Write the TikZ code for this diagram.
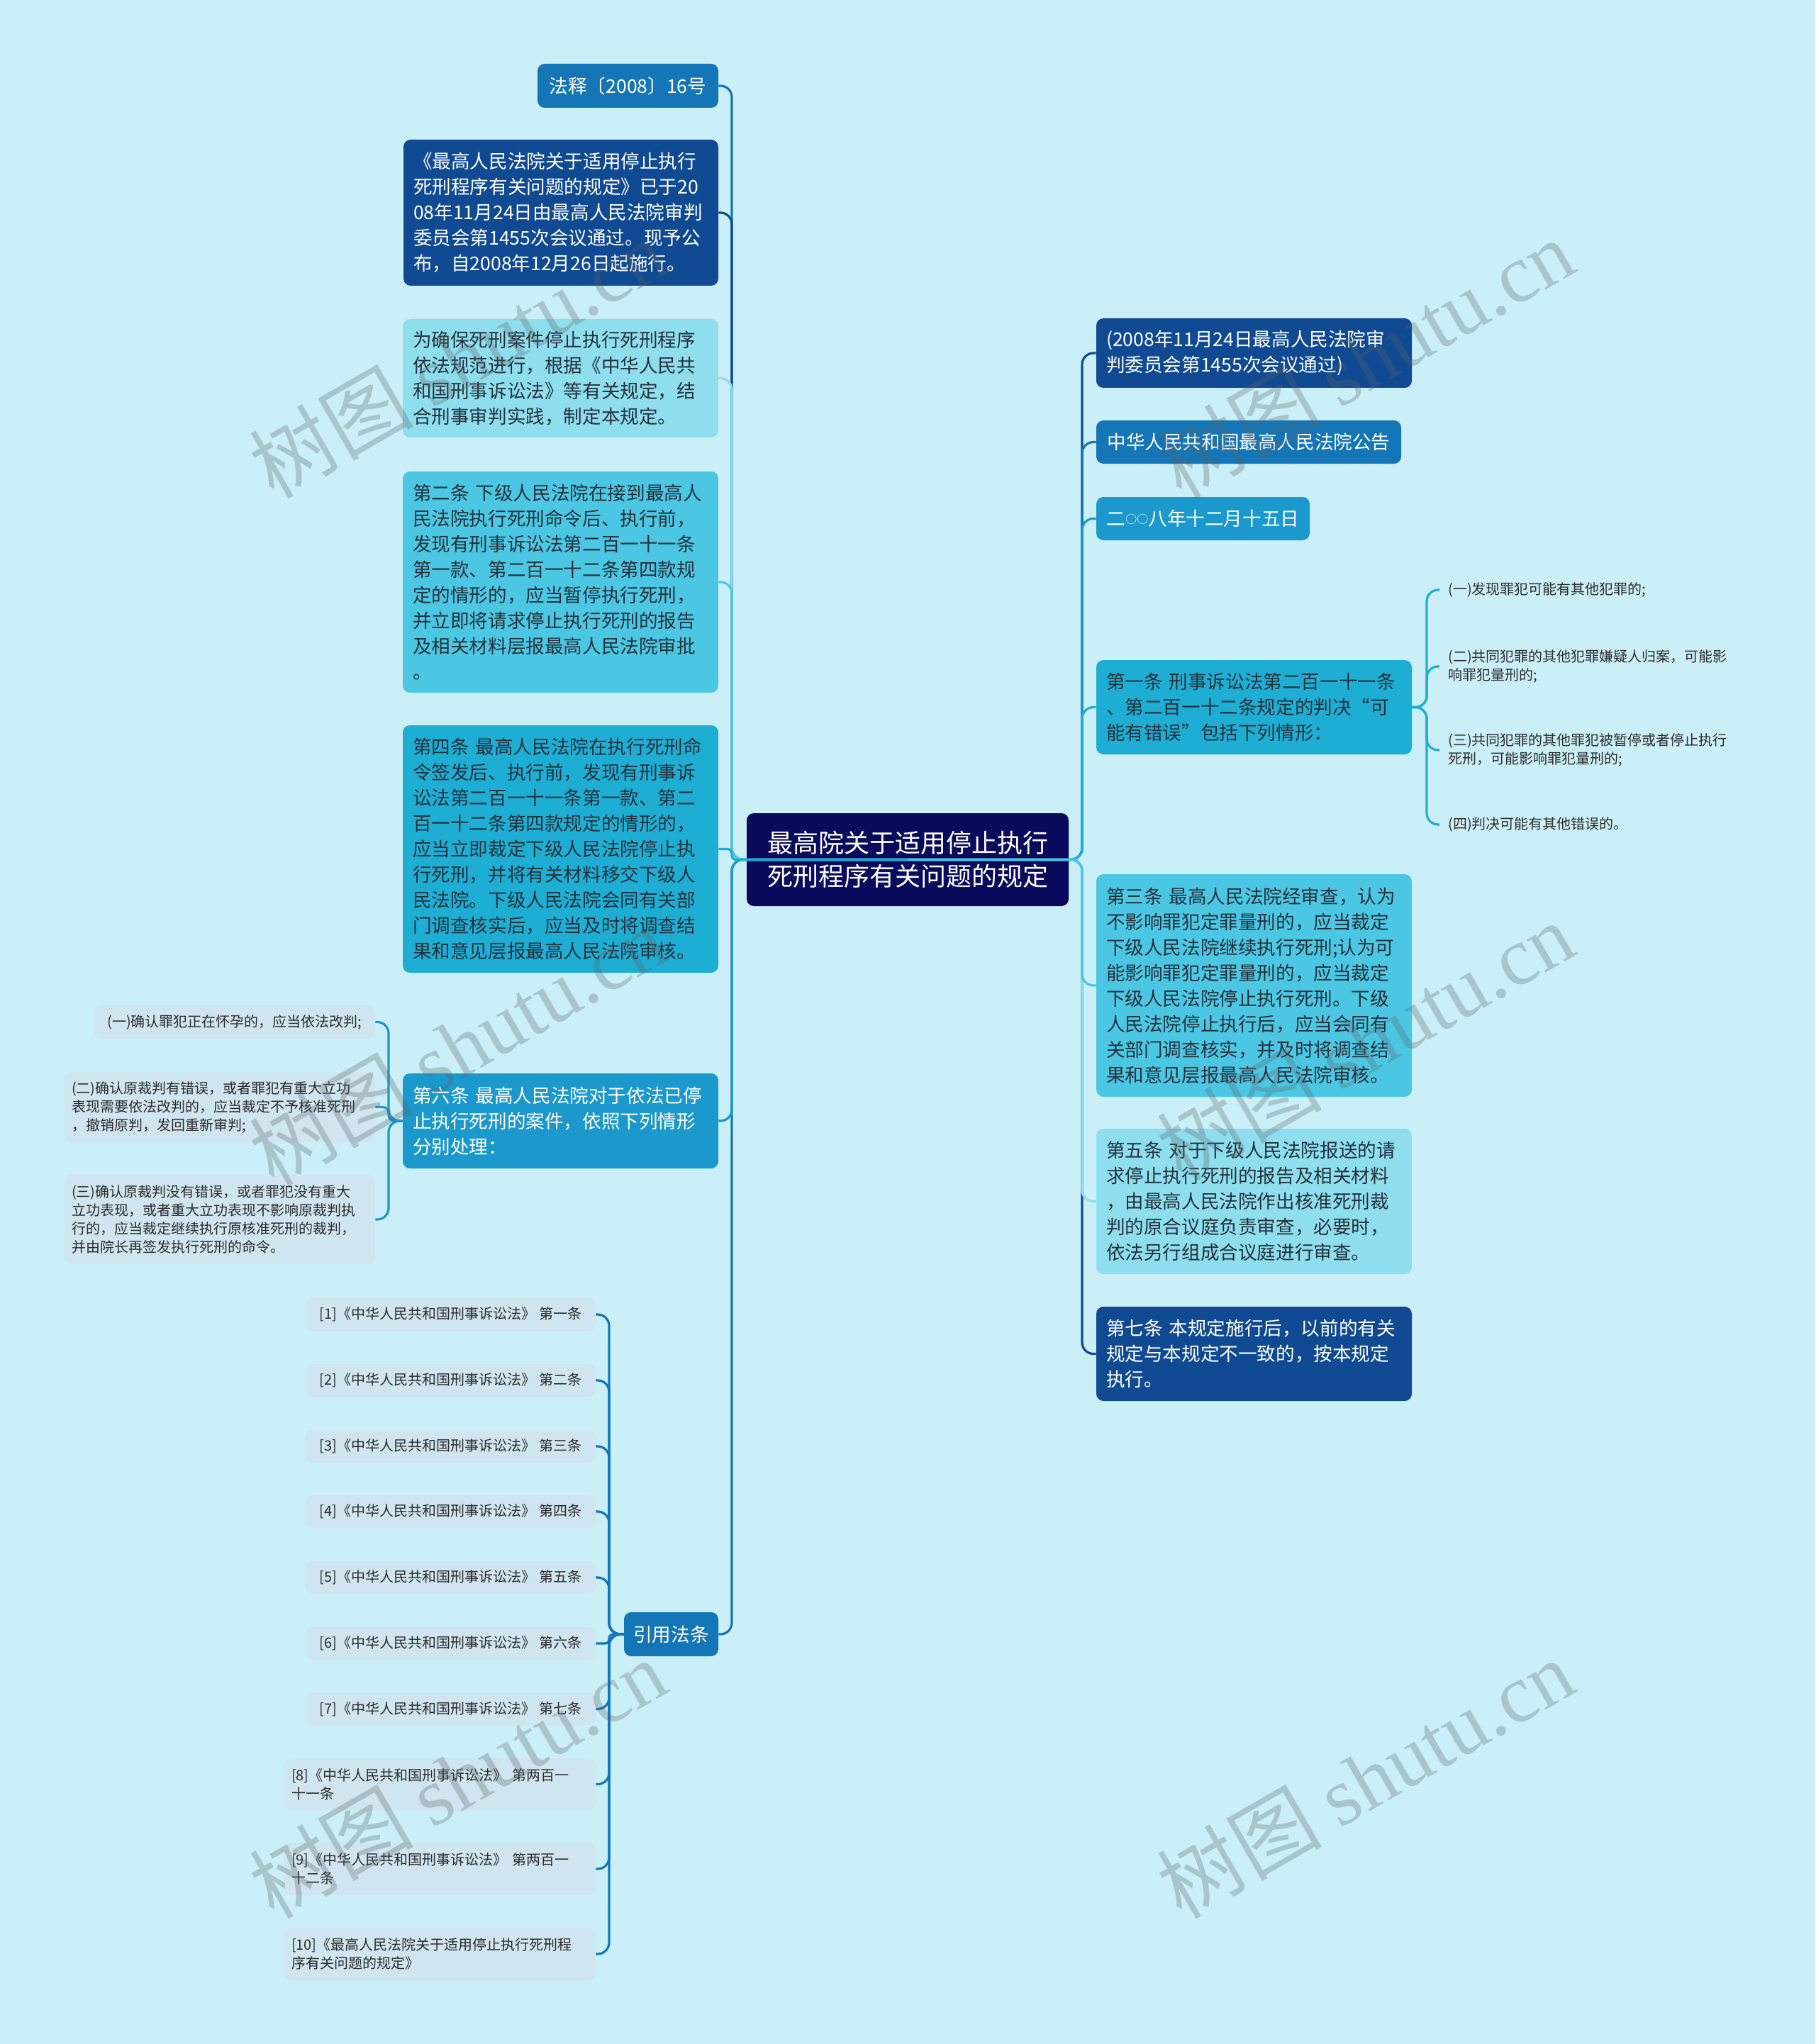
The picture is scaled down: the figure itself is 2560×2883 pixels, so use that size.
\documentclass[tikz,border=0pt]{standalone}
\usepackage{fontspec}
\setmainfont{Noto Sans CJK SC}
\newfontfamily\wmserif{Liberation Serif}
\definecolor{bg}{RGB}{203,239,247}
\definecolor{cNavy}{RGB}{10,10,92}
\definecolor{cDark}{RGB}{16,74,146}
\definecolor{cMed}{RGB}{20,118,182}
\definecolor{cBlue3}{RGB}{27,152,204}
\definecolor{cCyan1}{RGB}{30,174,212}
\definecolor{cCyan2}{RGB}{76,199,227}
\definecolor{cLight}{RGB}{142,222,238}
\definecolor{cSmall}{RGB}{207,229,239}
\definecolor{cText}{RGB}{35,50,60}
\definecolor{cSmallText}{RGB}{45,45,45}
\definecolor{cWm}{RGB}{90,100,105}
\tikzset{
  box/.style={rounded corners=5pt, inner sep=0pt, font=\fontsize{13.3pt}{18pt}\selectfont},
  multi/.style={align=left, inner xsep=7pt},
  small/.style={rounded corners=5pt, fill=cSmall, text=cSmallText, inner sep=0pt, font=\fontsize{10pt}{13pt}\selectfont},
  smulti/.style={align=left, inner xsep=5pt},
  sub/.style={inner sep=0pt, inner xsep=6pt, anchor=west, align=left, text width=215pt, text=cSmallText, font=\fontsize{10pt}{13.3pt}\selectfont},
  edge/.style={line width=1.6pt, rounded corners=8pt},
  wm/.style={rotate=30, text=cWm, opacity=0.3, font=\fontsize{58pt}{58pt}\selectfont}
}
\begin{document}
\begin{tikzpicture}[x=0.5pt,y=-0.5pt]
\fill[bg] (0,0) rectangle (2560,2883);
\useasboundingbox (0,0) rectangle (2560,2883);

% root
\node[box, fill=cNavy, text=white, minimum width=227pt, minimum height=65.5pt, align=center, font=\fontsize{18pt}{23.5pt}\selectfont] (root) at (1280,1212.5) {最高院关于适用停止执行\\死刑程序有关问题的规定};

% left column
\node[box, fill=cMed, text=white, minimum width=127.5pt, minimum height=31pt] (l0) at (885.5,121) {法释〔2008〕16号};
\node[box, multi, fill=cDark, text=white, minimum width=222pt, text width=208pt, minimum height=103pt] (l1) at (791,300) {《最高人民法院关于适用停止执行\\死刑程序有关问题的规定》已于20\\08年11月24日由最高人民法院审判\\委员会第1455次会议通过。现予公\\布，自2008年12月26日起施行。};
\node[box, multi, fill=cLight, text=cText, minimum width=222.5pt, text width=208.5pt, minimum height=83.5pt] (l2) at (790.5,533.5) {为确保死刑案件停止执行死刑程序\\依法规范进行，根据《中华人民共\\和国刑事诉讼法》等有关规定，结\\合刑事审判实践，制定本规定。};
\node[box, multi, fill=cCyan2, text=cText, minimum width=222.5pt, text width=208.5pt, minimum height=156pt] (l3) at (790.5,821) {第二条 下级人民法院在接到最高人\\民法院执行死刑命令后、执行前，\\发现有刑事诉讼法第二百一十一条\\第一款、第二百一十二条第四款规\\定的情形的，应当暂停执行死刑，\\并立即将请求停止执行死刑的报告\\及相关材料层报最高人民法院审批\\。};
\node[box, multi, fill=cCyan1, text=cText, minimum width=222.5pt, text width=208.5pt, minimum height=174.5pt] (l4) at (790.5,1197.5) {第四条 最高人民法院在执行死刑命\\令签发后、执行前，发现有刑事诉\\讼法第二百一十一条第一款、第二\\百一十二条第四款规定的情形的，\\应当立即裁定下级人民法院停止执\\行死刑，并将有关材料移交下级人\\民法院。下级人民法院会同有关部\\门调查核实后，应当及时将调查结\\果和意见层报最高人民法院审核。};
\node[box, multi, fill=cBlue3, text=white, minimum width=222.5pt, text width=208.5pt, minimum height=67pt] (l5) at (790.5,1581) {第六条 最高人民法院对于依法已停\\止执行死刑的案件，依照下列情形\\分别处理：};
\node[box, fill=cMed, text=white, minimum width=66.5pt, minimum height=31pt] (l6) at (946.5,2305) {引用法条};

% right column
\node[box, multi, fill=cDark, text=white, minimum width=222.5pt, text width=208.5pt, minimum height=49pt] (r0) at (1768.5,498) {(2008年11月24日最高人民法院审\\判委员会第1455次会议通过)};
\node[box, fill=cMed, text=white, minimum width=215pt, minimum height=30.5pt] (r1) at (1761,623.5) {中华人民共和国最高人民法院公告};
\node[box, fill=cBlue3, text=white, minimum width=150.5pt, minimum height=30.5pt] (r2) at (1696.5,731.5) {二\raisebox{1.8pt}{\fontsize{8pt}{8pt}\selectfont ○○}八年十二月十五日};
\node[box, multi, fill=cCyan1, text=cText, minimum width=222.5pt, text width=208.5pt, minimum height=66.5pt] (r3) at (1768.5,997.5) {第一条 刑事诉讼法第二百一十一条\\、第二百一十二条规定的判决“可\\能有错误”包括下列情形：};
\node[box, multi, fill=cCyan2, text=cText, minimum width=222.5pt, text width=208.5pt, minimum height=157pt] (r4) at (1768.5,1390) {第三条 最高人民法院经审查，认为\\不影响罪犯定罪量刑的，应当裁定\\下级人民法院继续执行死刑;认为可\\能影响罪犯定罪量刑的，应当裁定\\下级人民法院停止执行死刑。下级\\人民法院停止执行后，应当会同有\\关部门调查核实，并及时将调查结\\果和意见层报最高人民法院审核。};
\node[box, multi, fill=cLight, text=cText, minimum width=222.5pt, text width=208.5pt, minimum height=102.5pt] (r5) at (1768.5,1694.5) {第五条 对于下级人民法院报送的请\\求停止执行死刑的报告及相关材料\\，由最高人民法院作出核准死刑裁\\判的原合议庭负责审查，必要时，\\依法另行组成合议庭进行审查。};
\node[box, multi, fill=cDark, text=white, minimum width=222.5pt, text width=208.5pt, minimum height=66.5pt] (r6) at (1768.5,1909.5) {第七条 本规定施行后，以前的有关\\规定与本规定不一致的，按本规定\\执行。};

% sub items of r3
\node[sub] (t1) at (2030,832) {(一)发现罪犯可能有其他犯罪的;};
\node[sub] (t2) at (2030,940) {(二)共同犯罪的其他犯罪嫌疑人归案，可能影\\响罪犯量刑的;};
\node[sub] (t3) at (2030,1058) {(三)共同犯罪的其他罪犯被暂停或者停止执行\\死刑，可能影响罪犯量刑的;};
\node[sub] (t4) at (2030,1163) {(四)判决可能有其他错误的。};

% sub items of l5
\node[small, minimum width=198pt, minimum height=23.5pt] (s1) at (331,1441.5) {(一)确认罪犯正在怀孕的，应当依法改判;};
\node[small, smulti, minimum width=219pt, text width=209pt, minimum height=49.5pt] (s2) at (310,1561.5) {(二)确认原裁判有错误，或者罪犯有重大立功\\表现需要依法改判的，应当裁定不予核准死刑\\，撤销原判，发回重新审判;};
\node[small, smulti, minimum width=219pt, text width=209pt, minimum height=63pt] (s3) at (310,1720) {(三)确认原裁判没有错误，或者罪犯没有重大\\立功表现，或者重大立功表现不影响原裁判执\\行的，应当裁定继续执行原核准死刑的裁判，\\并由院长再签发执行死刑的命令。};

% citations
\node[small, minimum width=204.5pt, minimum height=23pt] (c1) at (635.5,1854) {[1]《中华人民共和国刑事诉讼法》 第一条};
\node[small, minimum width=204.5pt, minimum height=23pt] (c2) at (635.5,1947) {[2]《中华人民共和国刑事诉讼法》 第二条};
\node[small, minimum width=204.5pt, minimum height=23pt] (c3) at (635.5,2040) {[3]《中华人民共和国刑事诉讼法》 第三条};
\node[small, minimum width=204.5pt, minimum height=23pt] (c4) at (635.5,2132) {[4]《中华人民共和国刑事诉讼法》 第四条};
\node[small, minimum width=204.5pt, minimum height=23pt] (c5) at (635.5,2225) {[5]《中华人民共和国刑事诉讼法》 第五条};
\node[small, minimum width=204.5pt, minimum height=23pt] (c6) at (635.5,2318) {[6]《中华人民共和国刑事诉讼法》 第六条};
\node[small, minimum width=204.5pt, minimum height=23pt] (c7) at (635.5,2410.5) {[7]《中华人民共和国刑事诉讼法》 第七条};
\node[small, smulti, minimum width=219.5pt, text width=209.5pt, minimum height=37pt] (c8) at (620.5,2516.5) {[8]《中华人民共和国刑事诉讼法》 第两百一\\十一条};
\node[small, smulti, minimum width=219.5pt, text width=209.5pt, minimum height=37pt] (c9) at (620.5,2636) {[9]《中华人民共和国刑事诉讼法》 第两百一\\十二条};
\node[small, smulti, minimum width=219.5pt, text width=209.5pt, minimum height=37pt] (c10) at (620.5,2756) {[10]《最高人民法院关于适用停止执行死刑程\\序有关问题的规定》};

% edges root -> left
\draw[edge, cMed] (root.center) -- (1032,1212.5) |- (l0.east);
\draw[edge, cDark] (root.center) -- (1032,1212.5) |- (l1.east);
\draw[edge, cLight] (root.center) -- (1032,1212.5) |- (l2.east);
\draw[edge, cCyan2] (root.center) -- (1032,1212.5) |- (l3.east);
\draw[edge, cMed] (root.center) -- (1032,1212.5) |- (l6.east);
\draw[edge, cBlue3] (root.center) -- (1032,1212.5) |- (l5.east);
\draw[edge, cCyan1, rounded corners=3pt] (root.center) -- (1032,1212.5) |- (l4.east);
% edges root -> right
\draw[edge, cDark] (root.center) -- (1526,1212.5) |- (r0.west);
\draw[edge, cMed] (root.center) -- (1526,1212.5) |- (r1.west);
\draw[edge, cBlue3] (root.center) -- (1526,1212.5) |- (r2.west);
\draw[edge, cCyan1] (root.center) -- (1526,1212.5) |- (r3.west);
\draw[edge, cDark] (root.center) -- (1526,1212.5) |- (r6.west);
\draw[edge, cLight] (root.center) -- (1526,1212.5) |- (r5.west);
\draw[edge, cCyan2] (root.center) -- (1526,1212.5) |- (r4.west);

% r3 -> sub items
\foreach \t in {t1,t2,t3,t4}
  \draw[edge, cCyan1] (r3.east) -- (2012,997.5) |- (\t.west);
% l5 -> sub items
\draw[edge, cBlue3] (l5.west) -- (548,1581) |- (s1.east);
\draw[edge, cBlue3, rounded corners=4pt] (l5.west) -- (548,1581) |- (s2.east);
\draw[edge, cBlue3] (l5.west) -- (548,1581) |- (s3.east);
% citations
\foreach \c in {c1,c2,c3,c4,c5,c7,c8,c9,c10}
  \draw[edge, cMed] (l6.west) -- (859,2305) |- (\c.east);
\draw[edge, cMed, rounded corners=3pt] (l6.west) -- (859,2305) |- (c6.east);

% watermarks
\node[wm] (w1) at (645,505) {树图 {\wmserif shutu.cn}};
\node[wm] (w2) at (1925,505) {树图 {\wmserif shutu.cn}};
\node[wm] (w3) at (645,1475) {树图 {\wmserif shutu.cn}};
\node[wm] (w4) at (1925,1468) {树图 {\wmserif shutu.cn}};
\node[wm] (w5) at (645,2508) {树图 {\wmserif shutu.cn}};
\node[wm] (w6) at (1925,2508) {树图 {\wmserif shutu.cn}};
\end{tikzpicture}
\end{document}
